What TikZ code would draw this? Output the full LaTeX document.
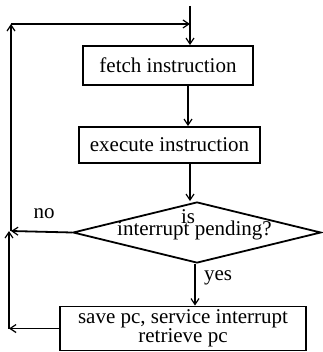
\documentclass[tikz,border=0pt]{standalone}
\usepackage{fontspec}
\setmainfont{Liberation Serif}
\usetikzlibrary{shapes.geometric,arrows.meta}
\begin{document}
\begin{tikzpicture}[x=1pt,y=-1pt,
  line width=1.8pt,
  arr/.style={-{Straight Barb[length=6pt,width=8pt,line width=1.2pt]}},
  box/.style={draw, rectangle, inner sep=0pt, font=\fontsize{21}{16}\selectfont},
  lbl/.style={anchor=base, inner sep=0pt, font=\fontsize{21}{16}\selectfont}]
\useasboundingbox (0,0) rectangle (322,352);
\node[box, minimum width=170pt, minimum height=39pt] (fetch) at (168,65.5) {fetch instruction};
\node[box, minimum width=181pt, minimum height=36pt] (exec) at (169.5,145) {execute instruction};
\node[draw, diamond, inner sep=0pt, minimum width=248pt, minimum height=61pt] (dec) at (197,232.5) {};
\node[lbl] (is) at (188,223) {is};
\node[lbl] (ip) at (194.5,235) {interrupt pending?};
\node[box, align=center, minimum width=246pt, minimum height=44pt] (save) at (183,328.5) {save pc, service interrupt\\retrieve pc};
\node[lbl] (no) at (44,218) {no};
\node[lbl] (yes) at (218,280) {yes};
\coordinate (start) at (190,6);
\coordinate (tl) at (11,24);
\coordinate (ml) at (11,231);
\coordinate (bl) at (9,231);
\coordinate (cx1) at (188,0);
\coordinate (cx2) at (190,0);
\coordinate (cx3) at (195,0);
\draw[arr] (start) -- (start |- fetch.north);
\draw[arr] (fetch.south -| cx1) -- (exec.north -| cx1);
\draw[arr] (exec.south -| cx2) -- (dec.north -| cx2);
\draw[arr] (dec.south -| cx3) -- (save.north -| cx3);
\draw[arr] (dec.west) -- (ml);
\draw[arr] (save.west) -- (save.west -| bl);
\draw[arr] (save.west -| bl) -- (bl);
\draw[arr] (ml) -- (tl);
\draw[arr] (tl) -- (tl -| start);
\end{tikzpicture}
\end{document}
